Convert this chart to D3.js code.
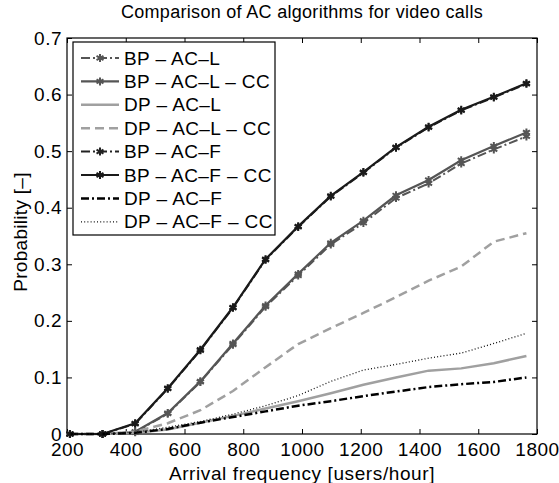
<!DOCTYPE html>
<html>
<head>
<meta charset="utf-8">
<script src="https://cdn.jsdelivr.net/npm/d3@7"></script>
<style>
  body { margin: 0; background: #fff; }
  svg { font-family: "Liberation Sans", Arial, sans-serif; }
</style>
</head>
<body>
<div id="chart"></div>
<script>

// arrival frequencies (users/hour)
var freq = [210, 321, 432, 543, 654, 765, 876, 987, 1098, 1209, 1320, 1431, 1542, 1653, 1764];

// blocking / dropping probabilities
var bpAcL   = [0, 0, 0.003, 0.036, 0.092, 0.158, 0.225, 0.280, 0.335, 0.373, 0.417, 0.443, 0.478, 0.503, 0.526];
var bpAcLCc = [0, 0, 0.004, 0.037, 0.093, 0.160, 0.227, 0.283, 0.338, 0.377, 0.422, 0.449, 0.484, 0.509, 0.533];
var dpAcL   = [0, 0, 0.002, 0.008, 0.020, 0.032, 0.045, 0.058, 0.072, 0.087, 0.100, 0.112, 0.116, 0.125, 0.138];
var dpAcLCc = [0, 0, 0.004, 0.019, 0.042, 0.076, 0.118, 0.159, 0.187, 0.214, 0.242, 0.271, 0.296, 0.340, 0.355];
var bpAcF   = [0, 0, 0.018, 0.080, 0.148, 0.223, 0.308, 0.366, 0.420, 0.462, 0.506, 0.542, 0.572, 0.595, 0.619];
var bpAcFCc = [0, 0, 0.019, 0.081, 0.149, 0.224, 0.309, 0.367, 0.421, 0.463, 0.507, 0.543, 0.573, 0.596, 0.620];
var dpAcF   = [0, 0, 0.002, 0.009, 0.020, 0.030, 0.040, 0.050, 0.058, 0.067, 0.075, 0.083, 0.088, 0.092, 0.100];
var dpAcFCc = [0, 0, 0.003, 0.012, 0.022, 0.035, 0.050, 0.068, 0.093, 0.113, 0.123, 0.134, 0.143, 0.160, 0.178];

var xTicks = [200, 400, 600, 800, 1000, 1200, 1400, 1600, 1800];
var yTicks = [0, 0.1, 0.2, 0.3, 0.4, 0.5, 0.6, 0.7];

var series = [
  {name: "BP \u2013 AC\u2013L",          values: bpAcL,   color: "#555", dash: "9,3,2,3", width: 2,   marker: true},
  {name: "BP \u2013 AC\u2013L \u2013 CC", values: bpAcLCc, color: "#555", dash: null,      width: 2.2, marker: true},
  {name: "DP \u2013 AC\u2013L",          values: dpAcL,   color: "#a0a0a0", dash: null,   width: 2.5, marker: false},
  {name: "DP \u2013 AC\u2013L \u2013 CC", values: dpAcLCc, color: "#a0a0a0", dash: "9,5", width: 2.5, marker: false},
  {name: "BP \u2013 AC\u2013F",          values: bpAcF,   color: "#222", dash: "9,3,2,3", width: 2,   marker: true},
  {name: "BP \u2013 AC\u2013F \u2013 CC", values: bpAcFCc, color: "#1a1a1a", dash: null,   width: 2.2, marker: true},
  {name: "DP \u2013 AC\u2013F",          values: dpAcF,   color: "#000", dash: "8,3,2,3", width: 2.5, marker: false},
  {name: "DP \u2013 AC\u2013F \u2013 CC", values: dpAcFCc, color: "#111", dash: "1,2.2", width: 1.3, marker: false}
];

// set the dimensions and margins of the graph
var margin = {top: 38, right: 22, bottom: 49, left: 67},
    width = 559 - margin.left - margin.right,
    height = 483 - margin.top - margin.bottom;

var svg = d3.select("#chart")
  .append("svg")
    .attr("width", 559)
    .attr("height", 483)
  .append("g")
    .attr("transform", "translate(" + margin.left + "," + margin.top + ")");

var x = d3.scaleLinear().domain([200, 1800]).range([0, width]);
var y = d3.scaleLinear().domain([0, 0.7]).range([height, 0]);

// axes (inside ticks on all four sides, matlab style)
var fmtY = function(d) { return d === 0 ? "0" : d3.format(".1f")(d); };

svg.append("g")
  .attr("transform", "translate(0," + height + ")")
  .call(d3.axisBottom(x).tickValues(xTicks).tickSizeInner(-5).tickSizeOuter(0).tickPadding(9).tickFormat(d3.format("d")));
svg.append("g")
  .call(d3.axisTop(x).tickValues(xTicks).tickSizeInner(-5).tickSizeOuter(0).tickFormat(""));
svg.append("g")
  .call(d3.axisLeft(y).tickValues(yTicks).tickSizeInner(-5).tickSizeOuter(0).tickPadding(5).tickFormat(fmtY));
svg.append("g")
  .attr("transform", "translate(" + width + ",0)")
  .call(d3.axisRight(y).tickValues(yTicks).tickSizeInner(-5).tickSizeOuter(0).tickFormat(""));

svg.selectAll(".domain").remove();
svg.selectAll(".tick line").attr("stroke", "#000");
svg.selectAll(".tick text").attr("fill", "#000").style("font-size", "19px").style("letter-spacing", "0.5px");

svg.append("rect")
  .attr("width", width)
  .attr("height", height)
  .attr("fill", "none")
  .attr("stroke", "#000")
  .attr("stroke-width", 1.2);

// lines
var line = d3.line()
  .x(function(d, i) { return x(freq[i]); })
  .y(function(d) { return y(d); });

var markType = d3.symbolAsterisk || d3.symbolCross;
var marker = d3.symbol().type(markType).size(45);

series.forEach(function(s) {
  svg.append("path")
    .datum(s.values)
    .attr("fill", "none")
    .attr("stroke", s.color)
    .attr("stroke-width", s.width)
    .attr("stroke-dasharray", s.dash)
    .attr("d", line);
  if (s.marker) {
    svg.selectAll(null)
      .data(s.values)
      .enter()
      .append("path")
        .attr("transform", function(d, i) { return "translate(" + x(freq[i]) + "," + y(d) + ")"; })
        .attr("d", marker)
        .attr("fill", "none")
        .attr("stroke", s.color)
        .attr("stroke-width", 2);
  }
});

// legend
var legend = svg.append("g").attr("transform", "translate(6,4)");
legend.append("rect")
  .attr("width", 202)
  .attr("height", 193)
  .attr("fill", "#fff")
  .attr("stroke", "#000")
  .attr("stroke-width", 1.2);

var row = legend.selectAll(".row")
  .data(series)
  .enter()
  .append("g")
    .attr("transform", function(d, i) { return "translate(0," + (16 + i * 23.4) + ")"; });

row.append("line")
  .attr("x1", 8).attr("x2", 46)
  .attr("stroke", function(d) { return d.color; })
  .attr("stroke-width", function(d) { return d.width; })
  .attr("stroke-dasharray", function(d) { return d.dash; });

row.filter(function(d) { return d.marker; })
  .append("path")
    .attr("transform", "translate(27,0)")
    .attr("d", marker)
    .attr("fill", "none")
    .attr("stroke", function(d) { return d.color; })
    .attr("stroke-width", 2);

row.append("text")
  .attr("x", 51)
  .attr("dy", "0.35em")
  .style("font-size", "19px")
  .style("letter-spacing", "0.4px")
  .text(function(d) { return d.name; });

// titles
svg.append("text")
  .attr("x", width / 2)
  .attr("y", -20)
  .attr("text-anchor", "middle")
  .style("font-size", "18px")
  .style("letter-spacing", "0.3px")
  .text("Comparison of AC algorithms for video calls");

svg.append("text")
  .attr("x", width / 2)
  .attr("y", height + 46)
  .attr("text-anchor", "middle")
  .style("font-size", "19px")
  .style("letter-spacing", "0.6px")
  .text("Arrival frequency [users/hour]");

svg.append("text")
  .attr("transform", "rotate(-90)")
  .attr("x", -height / 2 + 4)
  .attr("y", -40)
  .attr("text-anchor", "middle")
  .style("font-size", "19px")
  .style("letter-spacing", "0.3px")
  .text("Probability [\u2013]");

</script>
</body>
</html>
